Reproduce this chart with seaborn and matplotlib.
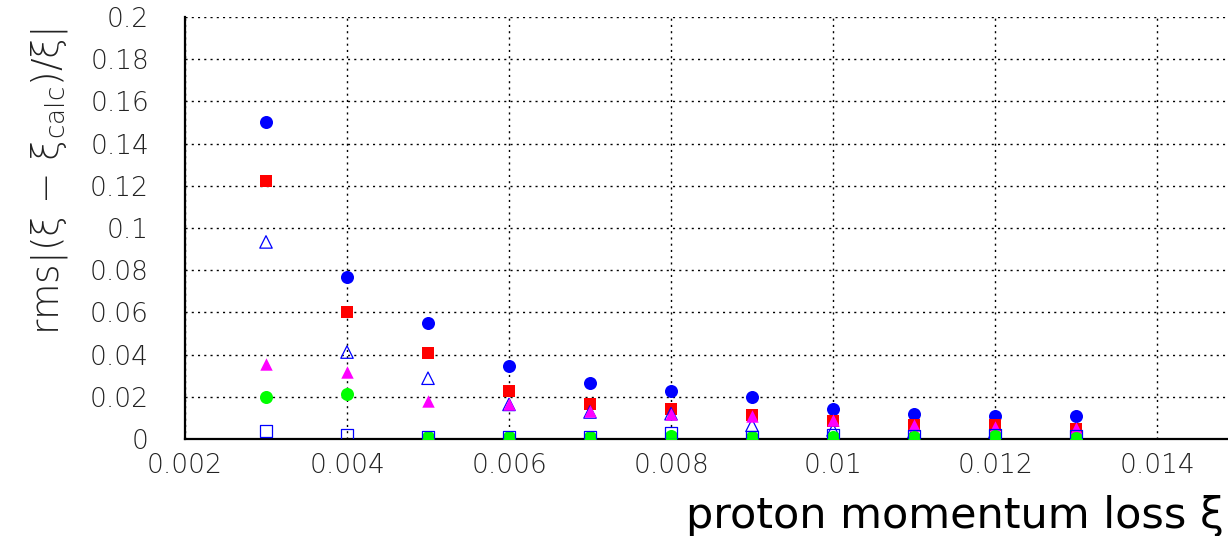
import numpy as np
import pandas as pd
import matplotlib
matplotlib.use("Agg")
import matplotlib.pyplot as plt
import seaborn as sns
from matplotlib.ticker import MultipleLocator

# ---- data ----
xi = [0.003, 0.004, 0.005, 0.006, 0.007, 0.008, 0.009, 0.010, 0.011, 0.012, 0.013]
blue_circle = [0.1504, 0.0768, 0.0550, 0.0346, 0.0264, 0.0226, 0.0197, 0.0141, 0.0117, 0.0109, 0.0109]
red_square = [0.1224, 0.0603, 0.0409, 0.0229, 0.0166, 0.0144, 0.0114, 0.0087, 0.0066, 0.0066, 0.0046]
blue_open_tri = [0.0934, 0.0412, 0.0288, 0.0164, 0.0128, 0.0120, 0.0065, 0.0043, 0.0035, 0.0035, 0.0019]
magenta_tri = [0.0357, 0.0319, 0.0182, 0.0164, 0.0133, 0.0120, 0.0110, 0.0088, 0.0068, 0.0058, 0.0052]
green_circle = [0.0197, 0.0213, 0.0011, 0.0011, 0.0008, 0.0014, 0.0011, 0.0011, 0.0008, 0.0014, 0.0006]
blue_open_sq = [0.0036, 0.0017, 0.0011, 0.0011, 0.0010, 0.0028, 0.0011, 0.0019, 0.0014, 0.0019, 0.0014]

y_ticks = [0, 0.02, 0.04, 0.06, 0.08, 0.1, 0.12, 0.14, 0.16, 0.18, 0.2]
y_tick_labels = ["0", "0.02", "0.04", "0.06", "0.08", "0.1", "0.12", "0.14", "0.16", "0.18", "0.2"]
x_ticks = [0.002, 0.004, 0.006, 0.008, 0.010, 0.012, 0.014]
x_tick_labels = ["0.002", "0.004", "0.006", "0.008", "0.01", "0.012", "0.014"]

sns.set_theme(style="white")
plt.rcParams['font.family'] = ['DejaVu Sans']
plt.rcParams['mathtext.fontset'] = 'custom'
plt.rcParams['mathtext.rm'] = 'DejaVu Sans:light'
plt.rcParams['mathtext.it'] = 'DejaVu Sans:light'

fig = plt.figure(figsize=(12.28, 5.36), dpi=100)
W, H = 1228, 536
ax_l, ax_r, ax_b, ax_t = 185, 1228, 439, 17
ax = fig.add_axes([ax_l / W, (H - ax_b) / H, (ax_r - ax_l) / W, (ax_b - ax_t) / H])

series = [
    (blue_circle, 'o', 88, dict(color='#0000ff', linewidth=0)),
    (red_square, 's', 75, dict(color='#ff0000', linewidth=0)),
    (blue_open_tri, '^', 80, dict(color='#0000ff', facecolor='none', edgecolor='#0000ff', linewidth=0.9)),
    (magenta_tri, '^', 80, dict(color='#ff00ff', linewidth=0)),
    (green_circle, 'o', 88, dict(color='#00ff00', linewidth=0)),
    (blue_open_sq, 's', 75, dict(color='#0000ff', facecolor='none', edgecolor='#0000ff', linewidth=0.9)),
]
for vals, mk, s, kw in series:
    df = pd.DataFrame({"xi": xi, "rms": vals})
    sns.scatterplot(data=df, x="xi", y="rms", marker=mk, s=s, ax=ax, zorder=3, **kw)

x_max = 0.014 + (1228 - 1157) / 81000.0
ax.set_xlim(0.002, x_max)
ax.set_ylim(0, 0.2)

ax.set_xticks(x_ticks)
ax.set_xticklabels(x_tick_labels)
ax.set_yticks(y_ticks)
ax.set_yticklabels(y_tick_labels)
ax.xaxis.set_minor_locator(MultipleLocator(0.0005))
ax.yaxis.set_minor_locator(MultipleLocator(0.005))

for lab in ax.get_xticklabels() + ax.get_yticklabels():
    lab.set_fontfamily('DejaVu Sans')
    lab.set_fontweight('light')
    lab.set_fontsize(19)
    lab.set_color('#222222')

ax.tick_params(axis='x', which='major', direction='in', length=8, width=1.2, pad=10, colors='black', labelcolor='#222222')
ax.tick_params(axis='x', which='minor', direction='in', length=6, width=1.0, colors='black')
ax.tick_params(axis='y', which='major', direction='in', length=6, width=1.2, pad=26, colors='black', labelcolor='#222222')
ax.tick_params(axis='y', which='minor', direction='in', length=5, width=1.0, colors='black')

ax.grid(True, which='major', color='black', linestyle=(0, (1.5, 3)), linewidth=1.0)
ax.set_axisbelow(True)

for side in ['top', 'right']:
    ax.spines[side].set_visible(False)
for side in ['left', 'bottom']:
    ax.spines[side].set_color('black')
    ax.spines[side].set_linewidth(1.6)

ax.set_xlabel("proton momentum loss ξ", fontsize=31, family='DejaVu Sans', color='black',
              ha='right', va='baseline')
ax.xaxis.set_label_coords((1224 - ax_l) / (ax_r - ax_l), (ax_b - 528) / (ax_b - ax_t))
ax.set_ylabel(r"rms|(ξ − ξ$_{\rm calc}$)/ξ|", fontsize=27, family='DejaVu Sans', weight='light',
              color='#222222', ha='center', va='center')
ax.yaxis.set_label_coords((50 - ax_l) / (ax_r - ax_l), (ax_b - 182) / (ax_b - ax_t))

fig.savefig("out.png", dpi=100)
